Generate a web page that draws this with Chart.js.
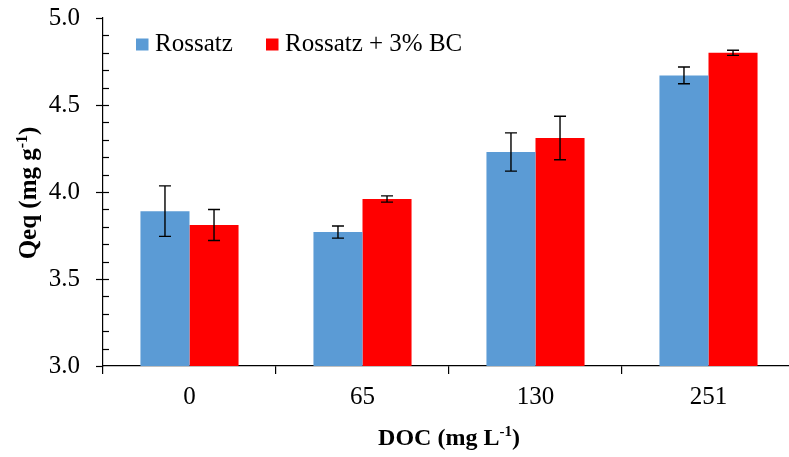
<!DOCTYPE html>
<html>
<head>
<meta charset="utf-8">
<script src="https://cdn.jsdelivr.net/npm/chart.js@4/dist/chart.umd.min.js"></script>
<style>
    body { margin: 0; overflow: hidden; background: #fff; }
    #wrap { position: relative; width: 797px; height: 477px; margin-top: -20px; }
</style>
</head>
<body>
<div id="wrap"><canvas id="qeq-chart"></canvas></div>
<script>
const categories = ['0', '65', '130', '251'];
const rossatz = [3.89, 3.77, 4.23, 4.67];
const rossatzErr = [0.145, 0.035, 0.11, 0.048];
const rossatzBC = [3.81, 3.96, 4.31, 4.80];
const rossatzBCErr = [0.089, 0.018, 0.125, 0.015];
const yMin = 3.0;
const yMax = 5.0;

const serif = "'Liberation Serif', 'Times New Roman', serif";
const shift = 20; // canvas is pulled up by this much

// text with a superscript part, e.g. "DOC (mg L" + "-1" + ")"
function drawSupText(ctx, parts, x, y, size) {
    let widths = parts.map(p => {
        ctx.font = `bold ${p.sup ? Math.round(size * 0.62) : size}px ${serif}`;
        return ctx.measureText(p.t).width;
    });
    let total = widths.reduce((a, b) => a + b, 0);
    let cx = x - total / 2;
    ctx.textBaseline = 'alphabetic';
    ctx.textAlign = 'left';
    parts.forEach((p, i) => {
        ctx.font = `bold ${p.sup ? Math.round(size * 0.62) : size}px ${serif}`;
        ctx.fillText(p.t, cx, p.sup ? y - size * 0.38 : y);
        cx += widths[i];
    });
}

const extras = {
    id: 'extras',
    afterDatasetsDraw(chart) {
        const ctx = chart.ctx;
        const yScale = chart.scales.y;
        const errs = [rossatzErr, rossatzBCErr];
        ctx.save();
        ctx.strokeStyle = '#000';
        ctx.lineWidth = 1.4;
        chart.data.datasets.forEach((ds, i) => {
            const meta = chart.getDatasetMeta(i);
            meta.data.forEach((bar, j) => {
                const v = ds.data[j];
                const top = yScale.getPixelForValue(v + errs[i][j]);
                const bot = yScale.getPixelForValue(v - errs[i][j]);
                ctx.beginPath();
                ctx.moveTo(bar.x, top); ctx.lineTo(bar.x, bot);
                ctx.moveTo(bar.x - 6, top); ctx.lineTo(bar.x + 6, top);
                ctx.moveTo(bar.x - 6, bot); ctx.lineTo(bar.x + 6, bot);
                ctx.stroke();
            });
        });
        ctx.restore();
    },
    afterDraw(chart) {
        const ctx = chart.ctx;
        const area = chart.chartArea;
        const yScale = chart.scales.y;
        ctx.save();
        // y ticks: majors cross outwards, minors inside
        ctx.strokeStyle = '#000';
        ctx.lineWidth = 1.2;
        for (let k = 0; k <= 20; k++) {
            const v = yMin + k * 0.1;
            const py = Math.round(yScale.getPixelForValue(v)) + 0.5;
            ctx.beginPath();
            if (k % 5 === 0) {
                ctx.moveTo(area.left - 7, py);
                ctx.lineTo(area.left + (k === 20 || k === 0 ? 0 : 6), py);
            } else {
                ctx.moveTo(area.left, py);
                ctx.lineTo(area.left + 6, py);
            }
            ctx.stroke();
        }

        // legend
        let lx = 136;
        ctx.textBaseline = 'alphabetic';
        ctx.textAlign = 'left';
        chart.data.datasets.forEach(ds => {
            ctx.fillStyle = ds.backgroundColor;
            ctx.fillRect(lx, 38.5 + shift, 12.5, 12);
            ctx.fillStyle = '#000';
            ctx.font = `25px ${serif}`;
            ctx.fillText(ds.label, lx + 19, 51 + shift);
            lx += 130;
        });

        // axis titles
        ctx.fillStyle = '#000';
        drawSupText(ctx, [{ t: 'DOC (mg L' }, { t: '-1', sup: true }, { t: ')' }],
            (area.left + area.right) / 2, 445 + shift, 24);
        ctx.translate(36, 193 + shift);
        ctx.rotate(-Math.PI / 2);
        drawSupText(ctx, [{ t: 'Qeq (mg g' }, { t: '-1', sup: true }, { t: ')' }], 0, 0, 25);
        ctx.restore();
    }
};

new Chart(document.getElementById('qeq-chart'), {
    type: 'bar',
    data: {
        labels: categories,
        datasets: [
            { label: 'Rossatz', data: rossatz, backgroundColor: '#5B9BD5' },
            { label: 'Rossatz + 3% BC', data: rossatzBC, backgroundColor: '#FF0000' }
        ]
    },
    options: {
        responsive: true,
        maintainAspectRatio: false,
        animation: false,
        datasets: { bar: { categoryPercentage: 0.567, barPercentage: 1.0 } },
        layout: { padding: { top: 0, right: 2, left: 0, bottom: 0 } },
        plugins: {
            legend: { display: false },
            tooltip: { enabled: false }
        },
        scales: {
            x: {
                offset: true,
                grid: { offset: true, drawOnChartArea: false, drawTicks: true, tickLength: 8, color: '#000', lineWidth: 1.2 },
                border: { display: true, color: '#000', width: 1.2 },
                ticks: { color: '#000', padding: 8, font: { family: serif, size: 25 } },
                afterFit: s => { s.height = 91; }
            },
            y: {
                min: yMin,
                max: yMax,
                grid: { drawOnChartArea: false, drawTicks: false },
                border: { display: true, color: '#000', width: 1.2 },
                ticks: {
                    stepSize: 0.5,
                    padding: 23,
                    color: '#000',
                    font: { family: serif, size: 25 },
                    callback: v => v.toFixed(1)
                },
                afterFit: s => { s.width = 103; }
            }
        }
    },
    plugins: [extras]
});
</script>
</body>
</html>
